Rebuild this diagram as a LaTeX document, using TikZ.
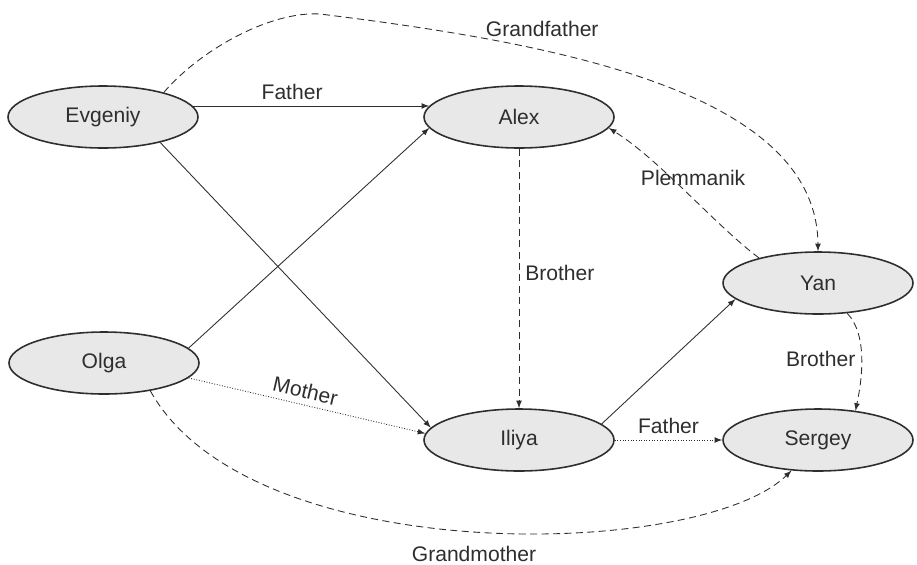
\documentclass[tikz,border=0pt]{standalone}
\usepackage{fontspec}
\setmainfont{Liberation Sans}
\usetikzlibrary{shapes}
\definecolor{ink}{HTML}{2E2E2E}
\definecolor{shade}{HTML}{E8E8E8}

\begin{document}
\begin{tikzpicture}[
		person/.style={ellipse, draw=ink, fill=shade, line width=0.9pt, minimum width=3.8cm, minimum height=1.24cm, font=\large, text=ink},
		rel/.style={-latex, draw=ink, line width=0.5pt},
		kin/.style={rel, dash pattern=on 4pt off 2.5pt},
		lbl/.style={font=\large, text=ink}
	]
		\useasboundingbox (0,0) rectangle (18.34,-11.28);
		
		\node[person] (Evgeniy) at (2.06,-2.34) {Evgeniy};
		\node[person] (Alex) at (10.38,-2.34) {Alex};
		\node[person] (Yan) at (16.36,-5.66) {Yan};
		\node[person] (Olga) at (2.08,-7.26) {Olga};
		\node[person] (Iliya) at (10.38,-8.80) {Iliya};
		\node[person] (Sergey) at (16.36,-8.80) {Sergey};
		
		% parents
		\draw[rel] (Evgeniy.7)--(Alex.173) node[lbl, above, pos=0.42] {Father};
		\draw[rel] (Evgeniy.-24)--(Iliya.172);
		\draw[rel] (Olga.10)--(Alex.187);
		\draw[rel, densely dotted] (Olga.-10)--(Iliya.176) node[lbl, above, sloped, pos=0.48] {Mother};
		\draw[rel] (Iliya.11)--(Yan.191);
		\draw[rel, densely dotted] (Iliya.east)--(Sergey.west) node[lbl, above, pos=0.5] {Father};
		
		% other relatives
		\draw[kin] (Alex.south)--(Iliya.north) node[lbl, right, pos=0.48] {Brother};
		\draw[kin] (Yan.157) .. controls (14.3,-4.5) and (13.2,-3.2) .. (Alex.-7) node[lbl, pos=0.6, xshift=0.44cm] {Plemmanik};
		\draw[kin] (Yan.-46) .. controls (17.36,-6.7) and (17.24,-7.6) .. (Sergey.38) node[lbl, left, pos=0.5] {Brother};
		\draw[kin] (Evgeniy.22) .. controls (4.0,-1.0) and (5.4,-0.22) .. (6.4,-0.28)
			.. controls (11.0,-0.85) and (16.34,-1.8) .. (Yan.north) node[lbl, above=4pt, pos=0.32] {Grandfather};
		\draw[kin] (Olga.-31) .. controls (5.0,-11.4) and (14.0,-11.2) .. (Sergey.-131) node[lbl, below=5pt, pos=0.5] {Grandmother};
\end{tikzpicture}
\end{document}
